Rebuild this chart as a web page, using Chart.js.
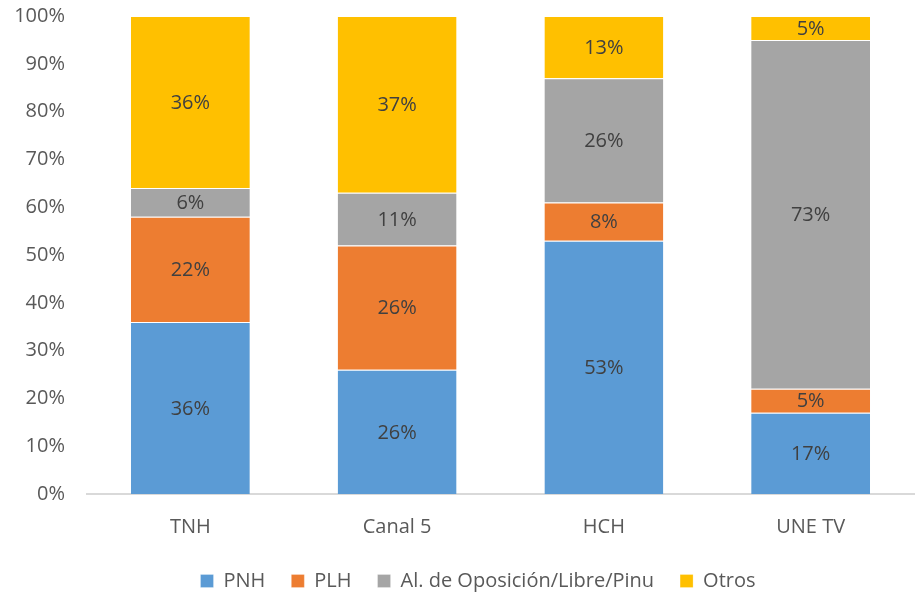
<!DOCTYPE html>
<html lang="es">
<head>
    <meta charset="UTF-8">
    <title>Cobertura por canal</title>
    <script src="https://cdnjs.cloudflare.com/ajax/libs/Chart.js/4.4.0/chart.umd.min.js"></script>
    <style>
        html, body { margin: 0; padding: 0; background: #fff; }
        #wrap { width: 915px; height: 596px; position: relative; }
    </style>
</head>
<body>
    <div id="wrap"><canvas id="mediaChart"></canvas></div>

    <script>
        // datos (porcentajes)
        const canales = ['TNH', 'Canal 5', 'HCH', 'UNE TV'];
        const pnh = [36, 26, 53, 17];
        const plh = [22, 26, 8, 5];
        const alianza = [6, 11, 26, 73];
        const otros = [36, 37, 13, 5];

        const fontName = "'Open Sans', 'Liberation Sans', sans-serif";

        // etiquetas dentro de cada segmento
        const segmentLabels = {
            id: 'segmentLabels',
            afterDatasetsDraw(chart) {
                const ctx = chart.ctx;
                ctx.save();
                ctx.font = '20px ' + fontName;
                ctx.fillStyle = '#404040';
                ctx.textAlign = 'center';
                ctx.textBaseline = 'middle';
                chart.data.datasets.forEach((ds, i) => {
                    const meta = chart.getDatasetMeta(i);
                    meta.data.forEach((bar, j) => {
                        const p = bar.getCenterPoint();
                        ctx.fillText(ds.data[j] + '%', p.x, p.y + 1);
                    });
                });
                ctx.restore();
            }
        };

        // la leyenda del original queda algo a la derecha del centro
        const legendShift = {
            id: 'legendShift',
            afterLayout(chart) {
                chart.legend.left += 21;
                chart.legend.right += 21;
            }
        };

        function serie(label, data, color) {
            return {
                label: label,
                data: data,
                backgroundColor: color,
                borderColor: '#ffffff',
                borderWidth: { top: 1, bottom: 0, left: 0, right: 0 },
                borderSkipped: false,
                categoryPercentage: 1.0,
                barPercentage: 0.575
            };
        }

        new Chart(document.getElementById('mediaChart'), {
            type: 'bar',
            data: {
                labels: canales,
                datasets: [
                    serie('PNH', pnh, '#5B9BD5'),
                    serie('PLH', plh, '#ED7D31'),
                    serie('Al. de Oposición/Libre/Pinu', alianza, '#A5A5A5'),
                    serie('Otros', otros, '#FFC000')
                ]
            },
            options: {
                responsive: true,
                maintainAspectRatio: false,
                animation: false,
                layout: {
                    padding: { top: 16, right: 1, bottom: -5, left: 0 }
                },
                plugins: {
                    legend: {
                        position: 'bottom',
                        labels: {
                            boxWidth: 13,
                            boxHeight: 13,
                            padding: 26,
                            color: '#595959',
                            font: { family: fontName, size: 20 }
                        }
                    },
                    tooltip: { enabled: false }
                },
                scales: {
                    x: {
                        stacked: true,
                        grid: { display: false },
                        border: { display: true, color: '#D9D9D9', width: 2 },
                        ticks: {
                            color: '#595959',
                            padding: 13,
                            font: { family: fontName, size: 20 }
                        },
                        afterFit(scale) {
                            scale.height -= 7;
                        }
                    },
                    y: {
                        stacked: true,
                        min: 0,
                        max: 100,
                        // marcas ocultas, solo dan el espacio entre etiqueta y eje
                        grid: { display: false, drawTicks: true, tickLength: 22 },
                        border: { display: false },
                        ticks: {
                            stepSize: 10,
                            padding: 0,
                            color: '#595959',
                            font: { family: fontName, size: 20 },
                            callback: v => v + '%'
                        },
                        afterFit(scale) {
                            scale.width = 87;
                        }
                    }
                }
            },
            plugins: [segmentLabels, legendShift]
        });
    </script>
</body>
</html>
